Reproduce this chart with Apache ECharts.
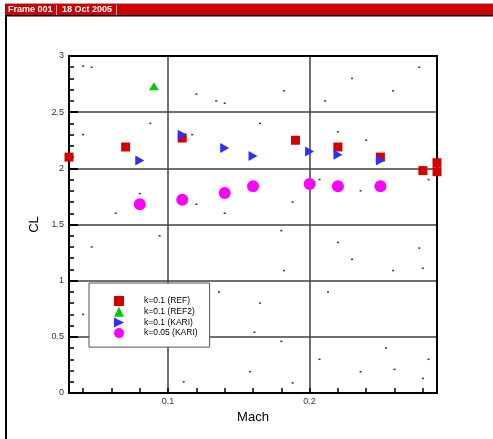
<!DOCTYPE html>
<html>
<head>
<meta charset="utf-8">
<script src="https://cdn.jsdelivr.net/npm/echarts@6/dist/echarts.min.js"></script>
<style>html,body{margin:0;padding:0;background:#fff}#c{width:493px;height:439px}</style>
</head>
<body>
<div id="c"></div>
<script>
// ---- data ----
const refMach  = [0.03, 0.07, 0.11, 0.19, 0.22, 0.25, 0.28, 0.29, 0.29];
const refCL    = [2.10, 2.19, 2.27, 2.25, 2.19, 2.10, 1.98, 2.05, 1.97];
const ref2Mach = [0.09];
const ref2CL   = [2.73];
const kariMach = [0.08, 0.11, 0.14, 0.16, 0.20, 0.22, 0.25];
const kariCL   = [2.07, 2.30, 2.18, 2.11, 2.15, 2.12, 2.07];
const k05Mach  = [0.08, 0.11, 0.14, 0.16, 0.20, 0.22, 0.25];
const k05CL    = [1.68, 1.72, 1.78, 1.84, 1.86, 1.84, 1.84];
const dotMach  = [0.040,0.046,0.120,0.134,0.140,0.0875,0.040,0.117,0.080,0.063,0.120,0.140,
                  0.2775,0.230,0.182,0.259,0.211,0.165,0.220,0.240,0.284,0.207,0.236,0.188,
                  0.094,0.046,0.136,0.040,0.161,0.158,0.111,
                  0.180,0.220,0.2775,0.230,0.182,0.259,0.280,0.213,0.165,0.180,0.254,0.207,0.284,0.260,0.236,0.280,0.188];
const dotCL    = [2.91,2.90,2.66,2.60,2.58,2.40,2.30,2.30,1.775,1.60,1.68,1.60,
                  2.90,2.80,2.69,2.69,2.60,2.40,2.325,2.25,1.90,1.90,1.80,1.70,
                  1.40,1.30,0.90,0.70,0.54,0.19,0.10,
                  1.445,1.34,1.29,1.19,1.09,1.09,1.11,0.90,0.80,0.46,0.40,0.30,0.30,0.21,0.19,0.13,0.09];
const xMajor = [0.1, 0.2];
const xMinor = [0.04, 0.06, 0.08, 0.1, 0.12, 0.14, 0.16, 0.18, 0.2, 0.22, 0.24, 0.26, 0.28];
const xMin = 0.03, xMax = 0.29;
const yMin = 0, yMax = 3, yStep = 0.5;
const names = ['k=0.1 (REF)', 'k=0.1 (REF2)', 'k=0.1 (KARI)', 'k=0.05 (KARI)'];

const zip = (a, b) => a.map((v, i) => [v, b[i]]);
const FONT = 'Liberation Sans, Arial, sans-serif';
const rightTri = 'path://M0,0L10,5L0,10Z';

const chart = echarts.init(document.getElementById('c'), null, {renderer: 'canvas'});
chart.setOption({
  animation: false,
  backgroundColor: '#fff',
  grid: {left: 69, right: 56, top: 56, bottom: 46, containLabel: false},
  xAxis: [{
    type: 'value', min: xMin, max: xMax, position: 'bottom',
    name: 'Mach', nameLocation: 'middle', nameGap: 11,
    nameTextStyle: {fontFamily: FONT, fontSize: 13, color: '#000'},
    axisLine: {show: true, onZero: false, lineStyle: {color: '#000', width: 2}},
    axisTick: {show: true, inside: true, length: 5, customValues: xMinor, lineStyle: {color: '#000', width: 1.5}},
    axisLabel: {show: true, customValues: xMajor, fontFamily: FONT, fontSize: 9, color: '#333', margin: 4},
    splitLine: {show: false}
  }, {
    type: 'value', min: xMin, max: xMax, position: 'top',
    axisLine: {show: true, onZero: false, lineStyle: {color: '#000', width: 2}},
    axisTick: {show: false, customValues: xMajor},
    axisLabel: {show: false, customValues: xMajor},
    splitLine: {show: true, lineStyle: {color: '#404040', width: 1.5}}
  }],
  yAxis: [{
    type: 'value', min: yMin, max: yMax, interval: yStep, position: 'left',
    name: 'CL', nameLocation: 'middle', nameGap: 28,
    nameTextStyle: {fontFamily: FONT, fontSize: 13, color: '#000'},
    axisLine: {show: true, onZero: false, lineStyle: {color: '#000', width: 2}},
    axisTick: {show: true, inside: true, length: 9, lineStyle: {color: '#000', width: 2}},
    minorTick: {show: true, splitNumber: 5, length: 5, lineStyle: {color: '#000', width: 1.5}},
    axisLabel: {fontFamily: FONT, fontSize: 9, color: '#333', margin: 5},
    splitLine: {show: true, lineStyle: {color: '#404040', width: 1.5}}
  }, {
    type: 'value', min: yMin, max: yMax, interval: yStep, position: 'right',
    axisLine: {show: true, onZero: false, lineStyle: {color: '#000', width: 2}},
    axisTick: {show: false}, axisLabel: {show: false}, splitLine: {show: false}
  }],
  legend: {
    orient: 'vertical', left: 89, top: 283,
    padding: [13, 12, 9, 25],
    itemWidth: 10, itemHeight: 10, itemGap: 0.7,
    backgroundColor: '#fff', borderColor: '#555', borderWidth: 1,
    selectedMode: false,
    textStyle: {fontFamily: FONT, fontSize: 8.5, color: '#000', padding: [0, 0, 0, 15]},
    data: [
      {name: names[0], icon: 'rect'},
      {name: names[1], icon: 'triangle'},
      {name: names[2], icon: rightTri},
      {name: names[3], icon: 'circle'}
    ]
  },
  series: [
    {type: 'scatter', name: 'mesh', data: zip(dotMach, dotCL), symbol: 'rect', symbolSize: [2, 1.5],
     itemStyle: {color: '#333', opacity: 1}, silent: true, z: 1},
    {type: 'scatter', name: names[0], data: zip(refMach, refCL), symbol: 'rect', symbolSize: 9,
     itemStyle: {color: '#d40000', opacity: 1}, z: 3},
    {type: 'scatter', name: names[1], data: zip(ref2Mach, ref2CL), symbol: 'triangle', symbolSize: [10, 8],
     itemStyle: {color: '#00cc00', opacity: 1}, z: 3},
    {type: 'scatter', name: names[2], data: zip(kariMach, kariCL), symbol: rightTri, symbolSize: [9, 10],
     itemStyle: {color: '#2e2eff', opacity: 1}, z: 4},
    {type: 'scatter', name: names[3], data: zip(k05Mach, k05CL), symbol: 'circle', symbolSize: 12,
     itemStyle: {color: '#ff00ff', opacity: 1}, z: 3}
  ],
  graphic: [
    {type: 'rect', shape: {x: 5, y: 3, width: 488, height: 1}, style: {fill: '#aaa'}},
    {type: 'rect', shape: {x: 5, y: 4, width: 488, height: 11}, style: {fill: '#cc0000'}},
    {type: 'rect', shape: {x: 5, y: 15, width: 488, height: 1.5}, style: {fill: '#000'}},
    {type: 'rect', shape: {x: 5, y: 16, width: 2, height: 423}, style: {fill: '#000'}},
    {type: 'rect', shape: {x: 56, y: 5, width: 1, height: 10}, style: {fill: '#f3a0a0'}},
    {type: 'rect', shape: {x: 116, y: 5, width: 1, height: 10}, style: {fill: '#f3a0a0'}},
    {type: 'text', x: 8, y: 10, style: {text: 'Frame 001', fill: '#fff', font: 'bold 9px ' + FONT, verticalAlign: 'middle'}},
    {type: 'text', x: 62, y: 10, style: {text: '18 Oct 2005', fill: '#fff', font: 'bold 9px ' + FONT, verticalAlign: 'middle'}}
  ]
});
</script>
</body>
</html>
